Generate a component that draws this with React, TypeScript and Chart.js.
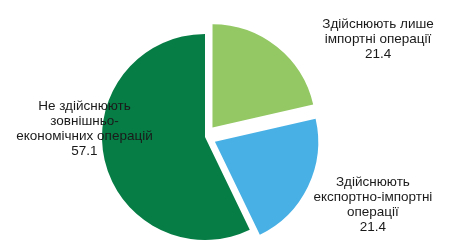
import React, { useEffect, useRef } from "react";
import { Chart, registerables } from "chart.js";

Chart.register(...registerables);

const categoryLines: string[][] = [
  ["Здійснюють лише", "імпортні операції"],
  ["Здійснюють", "експортно-імпортні", "операції"],
  ["Не здійснюють", "зовнішньо-", "економічних операцій"],
];
const values: number[] = [21.4, 21.4, 57.1];
const colors: string[] = ["#93C864", "#48B0E5", "#077D46"];
// Chart.js draws an arc shifted by offset / 4 px
const sliceOffsets: number[] = [48, 44, 0];
// label anchor, in units of the pie radius, relative to the pie centre
const labelAnchors: [number, number][] = [
  [1.68, -0.95],
  [1.63, 0.66],
  [-1.17, -0.08],
];

const labelPlugin = {
  id: "sliceLabels",
  afterDatasetsDraw(chart: any) {
    const meta = chart.getDatasetMeta(0);
    const ctx = chart.ctx;
    ctx.save();
    ctx.font = "13.5px 'Liberation Sans', Arial, sans-serif";
    ctx.fillStyle = "#1a1a1a";
    ctx.textAlign = "center";
    ctx.textBaseline = "middle";
    const lh = 15;
    meta.data.forEach((arc: any, i: number) => {
      const r = arc.outerRadius;
      const cx = arc.x + labelAnchors[i][0] * r;
      const cy = arc.y + labelAnchors[i][1] * r;
      const lines = [...categoryLines[i], values[i].toFixed(1)];
      const top = cy - ((lines.length - 1) * lh) / 2;
      lines.forEach((t, k) => ctx.fillText(t, cx, top + k * lh));
    });
    ctx.restore();
  },
};

export default function App() {
  const ref = useRef<HTMLCanvasElement | null>(null);
  useEffect(() => {
    if (!ref.current) return;
    const chart = new Chart(ref.current, {
      type: "pie",
      data: {
        labels: categoryLines.map((l) => l.join(" ")),
        datasets: [
          {
            data: values,
            backgroundColor: colors,
            borderWidth: 0,
            offset: sliceOffsets,
            clip: false as any,
          },
        ],
      },
      options: {
        responsive: false,
        animation: false,
        events: [],
        radius: 103,
        layout: { padding: { left: 0, right: 42, top: 34, bottom: 0 } },
        plugins: { legend: { display: false }, tooltip: { enabled: false } },
      } as any,
      plugins: [labelPlugin],
    });
    return () => chart.destroy();
  }, []);
  return (
    <div style={{ position: "absolute", left: 0, top: 0, width: 452, height: 240, background: "#fff" }}>
      <canvas ref={ref} width={452} height={240} style={{ display: "block" }} />
    </div>
  );
}
